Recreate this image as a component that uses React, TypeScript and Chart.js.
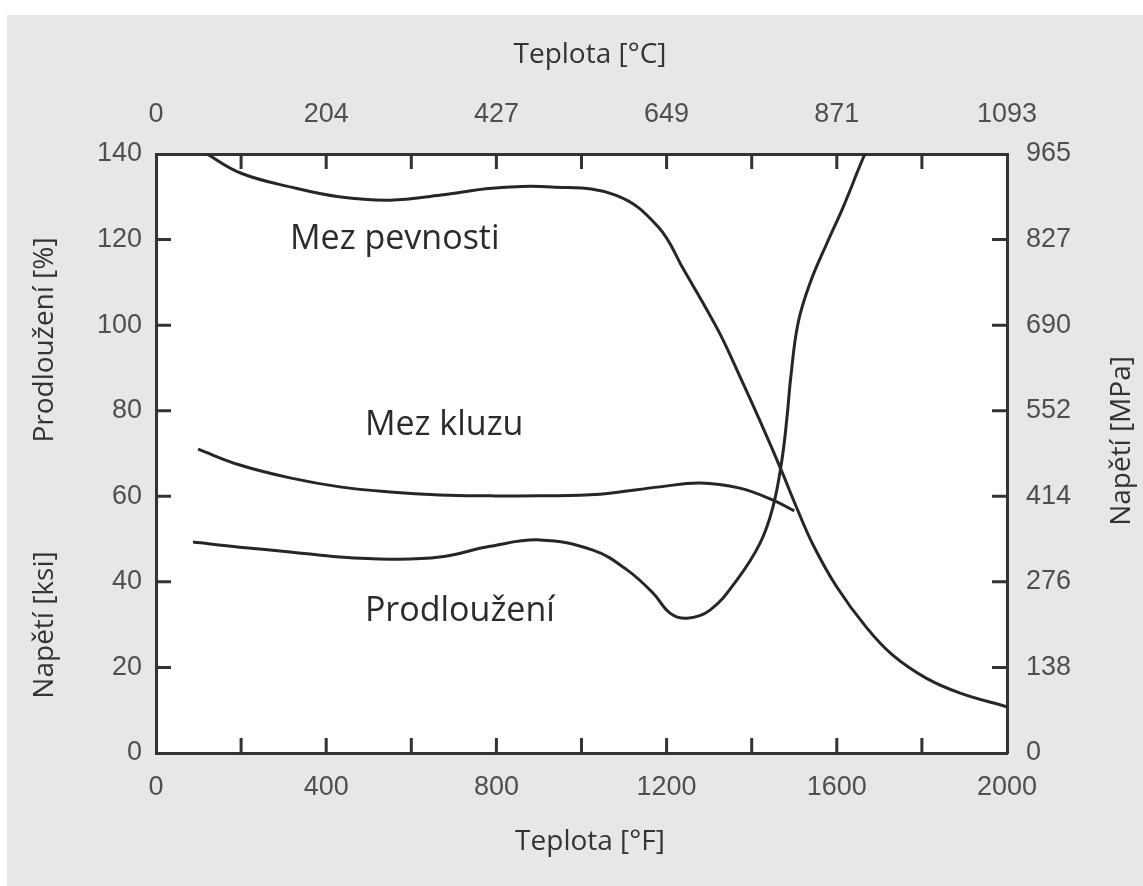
import React, { useEffect, useRef } from 'react';
import { Chart, registerables } from 'chart.js';

Chart.register(...registerables);

// ---- Data (temperature in °F, stress in ksi / elongation in %) ----
const tensileF = [90, 120, 200, 320, 430, 550, 670, 790, 930, 1080, 1180, 1240, 1320, 1370, 1420, 1470, 1505, 1545, 1600, 1670, 1730, 1810, 1890, 2000];
const tensileKsi = [142, 140, 135.5, 132.2, 130, 129.2, 130.4, 132, 132.3, 130.4, 123, 113, 99, 88.5, 77.5, 66, 57.5, 48.5, 38.8, 29.3, 23, 17.5, 14, 10.8];

const yieldF = [99, 197, 315, 432, 550, 667, 785, 902, 1043, 1184, 1278, 1372, 1450, 1500];
const yieldKsi = [71, 67.3, 64.3, 62.2, 61, 60.3, 60.1, 60.1, 60.5, 62.2, 63.1, 61.9, 59.1, 56.6];

const elongF = [87, 197, 315, 432, 550, 667, 785, 902, 1027, 1107, 1168, 1208, 1248, 1302, 1365, 1420, 1450, 1471, 1483, 1492, 1509, 1537, 1577, 1615, 1666, 1700];
const elongPct = [49.3, 48.1, 47, 45.8, 45.3, 45.8, 48.3, 49.8, 47.4, 42.8, 37.4, 32.7, 31.5, 33.4, 40.4, 49.1, 57.5, 68.5, 78.5, 88, 100.5, 109.8, 119.2, 127.6, 140, 147];

const topTickLabels = ['0', '204', '427', '649', '871', '1093']; // °C at 0,400,...,2000 °F
const rightTickLabels = ['0', '138', '276', '414', '552', '690', '827', '965']; // MPa at 0,20,...,140 ksi

const curveNames = ['Mez pevnosti', 'Mez kluzu', 'Prodloužení'];
const curveLabelF = [315, 491, 491];
const curveLabelY = [120, 76.7, 33];

const toPoints = (xs: number[], ys: number[]) => xs.map((x, i) => ({ x, y: ys[i] }));

const LINE = '#262626';
const AXIS = '#333333';
const TICK_FONT = { family: '"Liberation Sans", Arial, sans-serif', size: 27 };
const TICK_COLOR = '#4f4f4f';
const TITLE_FONT = '28px "Open Sans", sans-serif';
const TITLE_COLOR = '#333333';

const inwardTicks = {
  id: 'inwardTicks',
  afterDatasetsDraw(chart: any) {
    const { ctx, chartArea: a, scales } = chart;
    const L = 15;
    ctx.save();
    ctx.strokeStyle = AXIS;
    ctx.lineWidth = 3;
    ctx.beginPath();
    for (const t of scales.x.ticks) {
      if (t.value <= 0 || t.value >= 2000) continue;
      const px = scales.x.getPixelForValue(t.value);
      ctx.moveTo(px, a.bottom);
      ctx.lineTo(px, a.bottom - L);
    }
    for (const t of scales.xTop.ticks) {
      if (t.value <= 0 || t.value >= 2000) continue;
      const px = scales.xTop.getPixelForValue(t.value);
      ctx.moveTo(px, a.top);
      ctx.lineTo(px, a.top + L);
    }
    for (const t of scales.y.ticks) {
      if (t.value <= 0 || t.value >= 140) continue;
      const py = scales.y.getPixelForValue(t.value);
      ctx.moveTo(a.left, py);
      ctx.lineTo(a.left + L, py);
    }
    for (const t of scales.yRight.ticks) {
      if (t.value <= 0 || t.value >= 140) continue;
      const py = scales.yRight.getPixelForValue(t.value);
      ctx.moveTo(a.right, py);
      ctx.lineTo(a.right - L, py);
    }
    ctx.stroke();

    // curve labels at data positions
    ctx.fillStyle = '#2b2b2b';
    ctx.font = '34px "Open Sans", sans-serif';
    ctx.textAlign = 'left';
    ctx.textBaseline = 'middle';
    curveNames.forEach((n, i) => {
      ctx.fillText(n, scales.x.getPixelForValue(curveLabelF[i]), scales.y.getPixelForValue(curveLabelY[i]));
    });
    ctx.restore();
  },
  afterDraw(chart: any) {
    const { ctx } = chart;
    ctx.save();
    ctx.fillStyle = TITLE_COLOR;
    ctx.font = TITLE_FONT;
    ctx.textAlign = 'center';
    ctx.textBaseline = 'middle';
    ctx.fillText('Teplota [°C]', 583, 40);
    ctx.fillText('Teplota [°F]', 583, 827);
    const vert = (txt: string, x: number, y: number) => {
      ctx.save();
      ctx.translate(x, y);
      ctx.rotate(-Math.PI / 2);
      ctx.fillText(txt, 0, 0);
      ctx.restore();
    };
    vert('Prodloužení [%]', 38, 325);
    vert('Napětí [ksi]', 38, 610);
    vert('Napětí [MPa]', 1115, 426);
    ctx.restore();
  },
};

export default function App() {
  const ref = useRef<HTMLCanvasElement | null>(null);

  useEffect(() => {
    if (!ref.current) return;
    const lineDs = (data: any) => ({
      data,
      borderColor: LINE,
      borderWidth: 3,
      pointRadius: 0,
      fill: false,
      tension: 0.4,
      xAxisID: 'x',
      yAxisID: 'y',
    });
    const xScale = (position: string, labels: (v: number) => string, h: number, pad: number) => ({
      type: 'linear' as const,
      position,
      min: 0,
      max: 2000,
      afterFit: (s: any) => { s.height = h; },
      grid: { display: false },
      border: { display: true, color: AXIS, width: 3 },
      ticks: {
        stepSize: 200,
        autoSkip: false,
        maxRotation: 0,
        padding: pad,
        color: TICK_COLOR,
        font: TICK_FONT,
        callback: (v: any) => labels(Number(v)),
      },
    });
    const yScale = (position: string, labels: (v: number) => string, w: number, pad: number) => ({
      type: 'linear' as const,
      position,
      min: 0,
      max: 140,
      afterFit: (s: any) => { s.width = w; },
      grid: { display: false },
      border: { display: true, color: AXIS, width: 3 },
      ticks: {
        stepSize: 20,
        autoSkip: false,
        padding: pad,
        color: TICK_COLOR,
        font: TICK_FONT,
        callback: (v: any) => labels(Number(v)),
      },
    });

    const chart = new Chart(ref.current, {
      type: 'line',
      data: {
        datasets: [
          lineDs(toPoints(tensileF, tensileKsi)),
          lineDs(toPoints(yieldF, yieldKsi)),
          lineDs(toPoints(elongF, elongPct)),
        ],
      },
      options: {
        animation: false,
        responsive: false,
        layout: { padding: 0 },
        plugins: { legend: { display: false }, tooltip: { enabled: false } },
        scales: {
          x: xScale('bottom', (v) => (v % 400 === 0 ? String(v) : ''), 133, 10),
          xTop: xScale('top', (v) => (v % 400 === 0 ? topTickLabels[v / 400] : ''), 139, 15),
          y: yScale('left', (v) => String(v), 149, 6),
          yRight: yScale('right', (v) => rightTickLabels[Math.round(v / 20)] ?? '', 136, 11),
        } as any,
      },
      plugins: [inwardTicks],
    });
    return () => chart.destroy();
  }, []);

  return (
    <div style={{ position: 'fixed', left: 7, top: 15, width: 1136, height: 871, background: '#e6e7e9' }}>
      <div style={{ position: 'absolute', left: 149, top: 139, width: 851, height: 599, background: '#ffffff' }} />
      <canvas ref={ref} width={1136} height={871} style={{ position: 'absolute', left: 0, top: 0, width: 1136, height: 871 }} />
    </div>
  );
}
